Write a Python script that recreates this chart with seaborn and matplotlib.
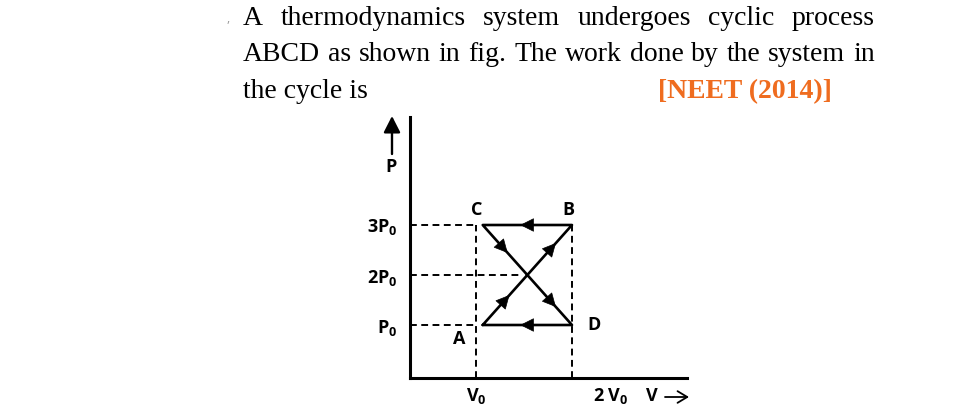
import numpy as np
import pandas as pd
import seaborn as sns
import matplotlib.pyplot as plt

# Cycle ABCD (volume in V0, pressure in P0)
states = ['A', 'B', 'C', 'D']
volume = [1.07, 2.0, 1.07, 2.0]
pressure = [1.0, 3.0, 3.0, 1.0]

p_ticks = [1, 2, 3]
p_labels = ['P$_0$', '2P$_0$', '3P$_0$']
v_ticks = [1]
v_labels = ['V$_0$']

# arrowheads: (start state, end state, fraction along the segment)
arrows = [('A', 'B', 0.30), ('A', 'B', 0.82), ('B', 'C', 0.58),
          ('C', 'D', 0.28), ('C', 'D', 0.82), ('D', 'A', 0.58)]

line1 = "A thermodynamics system undergoes cyclic process"
line2 = "ABCD as shown in fig. The work done by the system in"
line3 = "the cycle is"
ref = "[NEET (2014)]"

sns.set_style('white')
plt.rcParams['font.family'] = ['Open Sans', 'DejaVu Sans']
plt.rcParams['text.color'] = 'black'
plt.rcParams['xtick.color'] = 'black'
plt.rcParams['ytick.color'] = 'black'
plt.rcParams['mathtext.fontset'] = 'custom'
plt.rcParams['mathtext.rm'] = 'Open Sans:bold'
plt.rcParams['mathtext.bf'] = 'Open Sans:bold'
plt.rcParams['mathtext.it'] = 'Open Sans:bold'

W, H = 978, 419
fig = plt.figure(figsize=(W / 100, H / 100), dpi=100)
fx = lambda x: x / W
fy = lambda y: 1 - y / H

ax = fig.add_axes([fx(410), fy(378), (687 - 410) / W, (378 - 117) / H])
ax.set_xlim(0.3125, 3.198)
ax.set_ylim(-0.06, 5.16)

# cycle path
df = pd.DataFrame({'V': volume + [volume[0]], 'P': pressure + [pressure[0]]})
sns.lineplot(data=df, x='V', y='P', sort=False, estimator=None,
             color='black', lw=1.9, ax=ax)

pos = dict(zip(states, zip(volume, pressure)))
for s, e, f in arrows:
    x0, y0 = pos[s]
    x1, y1 = pos[e]
    tip = (x0 + f * (x1 - x0), y0 + f * (y1 - y0))
    tail = (x0 + (f - 0.05) * (x1 - x0), y0 + (f - 0.05) * (y1 - y0))
    ax.annotate('', xy=tip, xytext=tail,
                arrowprops=dict(arrowstyle='-|>,head_length=0.5,head_width=0.25',
                                color='black', lw=0.5, mutation_scale=18,
                                shrinkA=0, shrinkB=0))

# dashed guide lines
dash = dict(color='black', lw=1.4, linestyle=(0, (3.5, 2.3)))
ax.plot([ax.get_xlim()[0], v_ticks[0]], [3, 3], **dash)
ax.plot([ax.get_xlim()[0], v_ticks[0]], [1, 1], **dash)
ax.plot([ax.get_xlim()[0], 1.46], [2, 2], **dash)
ax.plot([1, 1], [ax.get_ylim()[0], 3], **dash)
ax.plot([2, 2], [ax.get_ylim()[0], 3], **dash)

# state labels
lab = dict(fontsize=13, fontweight='bold', ha='center', va='center', color='black')
ax.text(1.01, 3.3, 'C', **lab)
ax.text(1.96, 3.3, 'B', **lab)
ax.text(0.83, 0.72, 'A', **lab)
ax.text(2.23, 1.0, 'D', **lab)

for side in ['top', 'right']:
    ax.spines[side].set_visible(False)
for side in ['left', 'bottom']:
    ax.spines[side].set_color('black')
    ax.spines[side].set_linewidth(2.2)

ax.set_yticks(p_ticks, p_labels, fontsize=13, fontweight='bold')
ax.set_xticks(v_ticks, v_labels, fontsize=13, fontweight='bold')
ax.tick_params(length=0, labelcolor='black')
ax.tick_params(axis='y', pad=9)
ax.tick_params(axis='x', pad=6)
ax.set_xlabel('')
ax.set_ylabel('')

fig.text(fx(593), fy(396), '2 V$_0$', fontsize=13, fontweight='bold', ha='left', va='center')
fig.text(fx(646), fy(396), 'V', fontsize=13, fontweight='bold', ha='left', va='center')
ax.annotate('', xy=(fx(689), fy(397)), xytext=(fx(665), fy(397)),
            xycoords='figure fraction', textcoords='figure fraction',
            annotation_clip=False,
            arrowprops=dict(arrowstyle='->,head_length=0.5,head_width=0.3',
                            color='black', lw=1.3, mutation_scale=14,
                            shrinkA=0, shrinkB=0))

# P axis arrow
fig.text(fx(391), fy(167), 'P', fontsize=13, fontweight='bold', ha='center', va='center')
ax.annotate('', xy=(fx(392), fy(116)), xytext=(fx(392), fy(154)),
            xycoords='figure fraction', textcoords='figure fraction',
            annotation_clip=False,
            arrowprops=dict(arrowstyle='-|>,head_length=0.55,head_width=0.28',
                            color='black', lw=1.7, mutation_scale=18,
                            shrinkA=0, shrinkB=0))

# question text
serif = dict(family='Liberation Serif', fontsize=20, color='black', va='baseline', ha='left')
renderer = fig.canvas.get_renderer()


def justified(text, x0, x1, y):
    words = text.split()
    arts = [fig.text(fx(x0), fy(y), w, **serif) for w in words]
    widths = [a.get_window_extent(renderer).width for a in arts]
    gap = (x1 - x0 - sum(widths)) / (len(words) - 1)
    x = x0
    for a, w in zip(arts, widths):
        a.set_x(fx(x))
        x += w + gap


justified(line1, 243, 875, 25)
justified(line2, 243, 875, 61)
fig.text(fx(243), fy(98), line3, **serif)
fig.text(fx(658), fy(98), ref, family='Liberation Serif', fontsize=20,
         fontweight='bold', color='#EF6C1F', va='baseline', ha='left')
fig.text(fx(228), fy(22), ',', fontsize=9, color='#9a9a9a', ha='center', va='baseline')

fig.savefig('out.png', dpi=100)
